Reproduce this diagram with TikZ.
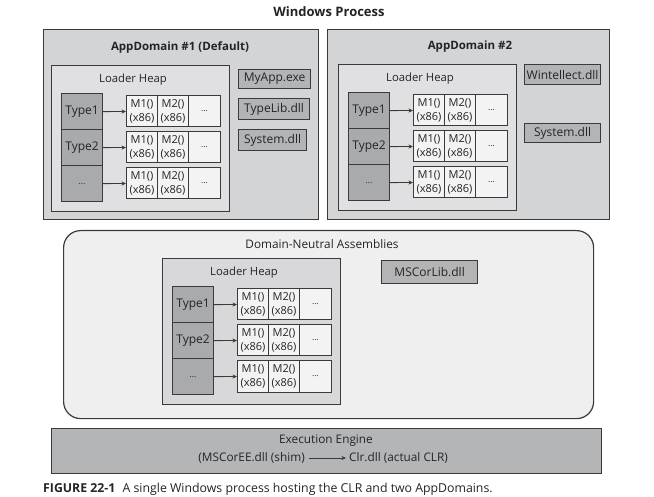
\documentclass[tikz,border=0pt]{standalone}
\usepackage{fontspec}
\setmainfont{Open Sans}
\usetikzlibrary{arrows.meta}

\definecolor{linec}{HTML}{3A3A3A}
\definecolor{txt}{HTML}{242424}
\definecolor{domfill}{HTML}{D3D4D6}
\definecolor{heapfill}{HTML}{E0E0E2}
\definecolor{nheapfill}{HTML}{D8D8DA}
\definecolor{typefill}{HTML}{A9AAAC}
\definecolor{methfill}{HTML}{F3F3F3}
\definecolor{dllfill}{HTML}{B3B4B6}
\definecolor{neutfill}{HTML}{EFEFEF}
\definecolor{eefill}{HTML}{B4B5B7}

\newcommand\fsz[2]{\fontsize{#1}{#2}\selectfont}

% one row of a loader heap: type cell, arrow, method table
\newcommand\heaprow[4]{%
  \node[typecell, anchor=north west] (#1-t#2) at (10,#3) {#4};
  \node[methcell, anchor=north west] (#1-a#2) at (75,#3+2.5) {M1()\\(x86)};
  \node[methcell, anchor=north west] (#1-b#2) at (106,#3+2.5) {M2()\\(x86)};
  \node[methcell, anchor=north west, minimum width=32pt, font=\fsz{8.5}{10}] (#1-c#2) at (137,#3+2.5) {...};
  \draw[link] (#1-t#2) -- (#1-a#2);
}

% a complete loader heap block with its top-left corner at (#2,#3)
\newcommand\loaderheap[4]{%
  \begin{scope}[shift={(#2,#3)}]
    \node[heapbox, fill=#4, anchor=north west, minimum width=178pt, minimum height=146pt] (#1) at (0,0) {};
    \node[label] (#1-title) at (82,15) {Loader Heap};
    \heaprow{#1}{1}{28}{Type1}
    \heaprow{#1}{2}{64}{Type2}
    \heaprow{#1}{3}{100}{{\fsz{8.5}{10}...}}
  \end{scope}}

\begin{document}
\begin{tikzpicture}[x=1pt, y=-1pt, text=txt,
  frame/.style={draw=linec, line width=1.2pt, inner sep=0pt},
  domainbox/.style={frame, fill=domfill},
  heapbox/.style={frame},
  typecell/.style={frame, fill=typefill, minimum width=41pt, minimum height=36pt, font=\fsz{12}{14}},
  methcell/.style={frame, line width=1pt, fill=methfill, minimum width=31pt, minimum height=31pt, font=\fsz{11}{13.5}, align=center},
  dll/.style={frame, fill=dllfill, font=\fsz{12}{14}},
  label/.style={font=\fsz{11.3}{13}, inner sep=0pt},
  title/.style={font=\bfseries\fsz{11.5}{14}, inner sep=0pt},
  link/.style={draw=linec, line width=0.9pt, -{Stealth[length=4.5pt,width=4pt]}}
]
\useasboundingbox (0,0) rectangle (654,497);
\fill[white] (0,0) rectangle (654,497);

\node[title, font=\bfseries\fsz{13}{15}] (wp) at (329,12) {Windows Process};

% first application domain
\node[domainbox, anchor=north west, minimum width=275pt, minimum height=190pt] (ad1) at (43,29) {};
\node[title] (ad1-title) at (180,47) {AppDomain \#1 (Default)};
\loaderheap{h1}{51}{65}{heapfill}
\node[dll, anchor=north west, minimum width=72pt, minimum height=19pt] (myapp) at (238,69) {MyApp.exe};
\node[dll, anchor=north west, minimum width=71pt, minimum height=21pt] (typelib) at (238,98) {TypeLib.dll};
\node[dll, anchor=north west, minimum width=68pt, minimum height=21pt] (sys1) at (238,129) {System.dll};

% second application domain
\node[domainbox, anchor=north west, minimum width=282pt, minimum height=190pt] (ad2) at (327,29) {};
\node[title] (ad2-title) at (470,47) {AppDomain \#2};
\loaderheap{h2}{338}{64}{heapfill}
\node[dll, anchor=north west, minimum width=76pt, minimum height=20pt] (wintellect) at (524,64) {Wintellect.dll};
\node[dll, anchor=north west, minimum width=76pt, minimum height=19pt] (sys2) at (524,123) {System.dll};

% domain-neutral assemblies
\node[frame, fill=neutfill, rounded corners=17pt, anchor=north west, minimum width=530pt, minimum height=188pt] (dn) at (63,230) {};
\node[label, font=\fsz{11.8}{13}] (dn-title) at (322,244) {Domain-Neutral Assemblies};
\loaderheap{h3}{162}{258}{nheapfill}
\node[dll, anchor=north west, minimum width=96pt, minimum height=23pt] (mscorlib) at (381,260) {MSCorLib.dll};

% execution engine
\node[frame, fill=eefill, anchor=north west, minimum width=550pt, minimum height=45pt] (ee) at (51,428) {};
\node[label, font=\fsz{11.8}{13}] (ee-title) at (326,441) {Execution Engine};
\node[label, font=\fsz{11.8}{13}, anchor=east] (shim) at (305,458) {(MSCorEE.dll (shim)};
\node[label, font=\fsz{11.8}{13}, anchor=west] (clr) at (349,458) {Clr.dll (actual CLR)};
\draw[link] ([xshift=4pt]shim.east) -- ([xshift=-3pt]clr.west);

% caption
\node[anchor=west, inner sep=0pt, font=\fsz{12.3}{14}] (caption) at (43,489)
  {\textbf{FIGURE 22-1}\hspace{4pt} A single Windows process hosting the CLR and two AppDomains.};
\end{tikzpicture}
\end{document}
